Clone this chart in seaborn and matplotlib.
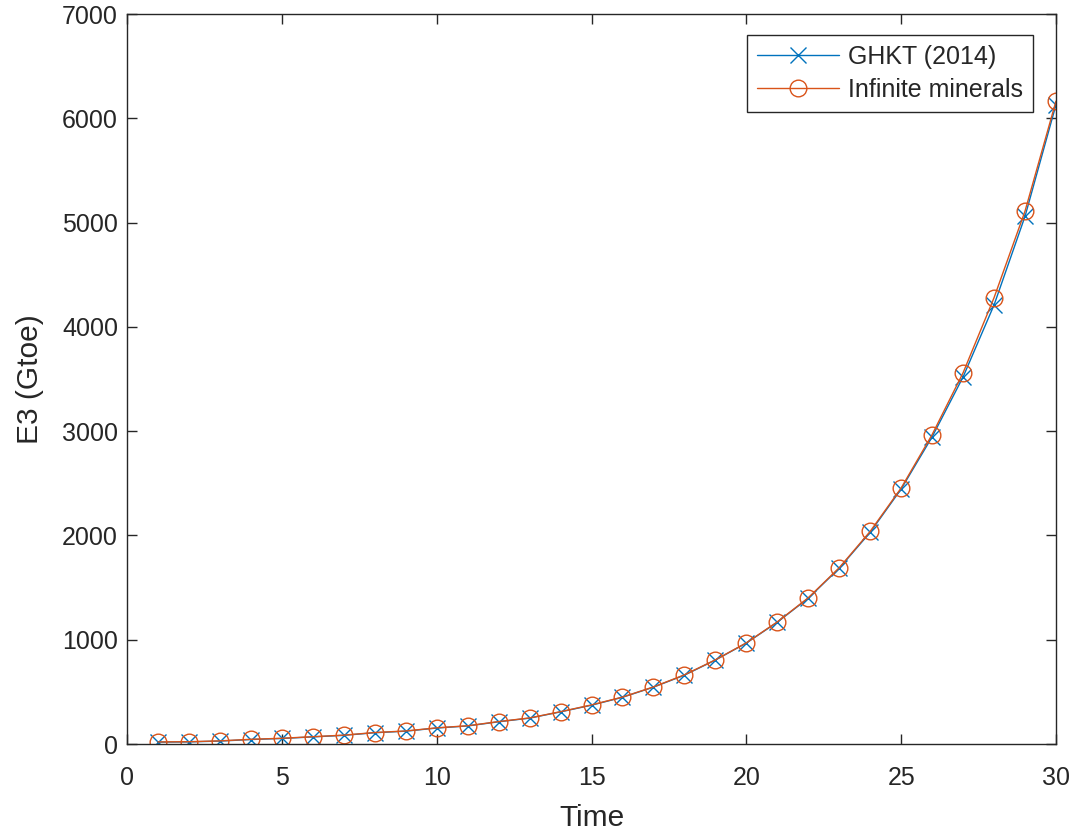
import matplotlib
matplotlib.use("Agg")
import matplotlib.pyplot as plt
import seaborn as sns
import pandas as pd
import numpy as np

time = list(range(1, 31))
ghkt = [18, 20, 28, 43, 53, 68, 83, 108, 123, 153, 173, 213, 248, 308, 372,
        448, 545, 660, 805, 968, 1168, 1398, 1685, 2030, 2445, 2945, 3520, 4210, 5060, 6130]
infinite = [20, 22, 30, 45, 55, 70, 85, 110, 125, 155, 175, 215, 250, 310, 375,
            450, 547, 663, 807, 970, 1171, 1402, 1690, 2039, 2455, 2967, 3560, 4280, 5110, 6165]
series_names = ["GHKT (2014)", "Infinite minerals"]

sns.set_theme(style="white")
plt.rcParams['font.family'] = ['Liberation Sans', 'DejaVu Sans']

df = pd.DataFrame({
    "Time": time * 2,
    "E3": ghkt + infinite,
    "Series": [series_names[0]] * len(time) + [series_names[1]] * len(time),
})

fig = plt.figure(figsize=(10.85, 8.34), dpi=100)
ax = fig.add_axes([127 / 1085, 1 - 744 / 834, (1056 - 127) / 1085, (744 - 14) / 834])

colors = {series_names[0]: "#0072BD", series_names[1]: "#D95319"}
markers = {series_names[0]: "x", series_names[1]: "o"}

for name in series_names:
    sub = df[df["Series"] == name]
    sns.lineplot(data=sub, x="Time", y="E3", ax=ax, color=colors[name],
                 marker=markers[name], markersize=12, linewidth=1.0,
                 markerfacecolor="none", markeredgecolor=colors[name],
                 markeredgewidth=1.0, label=name)

ax.set_xlim(0, 30)
ax.set_ylim(0, 7000)
ax.set_xticks(range(0, 31, 5))
ax.set_yticks(range(0, 7001, 1000))
ax.tick_params(direction="in", length=7, width=1, colors="#262626",
               labelsize=18, top=True, right=True, bottom=True, left=True,
               labeltop=False, labelright=False)
ax.tick_params(axis="x", pad=16)
ax.tick_params(axis="y", pad=6.5)
for s in ax.spines.values():
    s.set_color("#262626")
    s.set_linewidth(1.0)
ax.set_xlabel("Time", fontsize=21.5, color="#262626", labelpad=10)
ax.set_ylabel("E3 (Gtoe)", fontsize=21.5, color="#262626", labelpad=13)

leg = ax.legend(loc="upper right", bbox_to_anchor=(1 - 23 / 929, 1 - 21 / 730),
                borderaxespad=0, fontsize=18, frameon=True, fancybox=False,
                edgecolor="#262626", framealpha=1, borderpad=0.4,
                handlelength=3.3, handletextpad=0.36, labelspacing=0.35)
leg.get_frame().set_linewidth(1.0)

fig.savefig("out.png", dpi=100)
